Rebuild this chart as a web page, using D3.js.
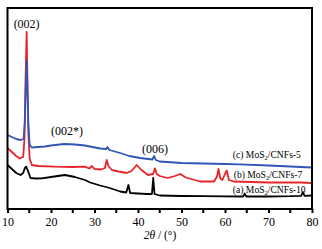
<html>
<head>
<style>
 body{margin:0;background:#fff;}
 text{font-family:"Liberation Serif","Times New Roman",serif;}
</style>
</head>
<body>
<div id="xrd"></div>
<script src="https://d3js.org/d3.v7.min.js"></script>
<script>
// 2theta (deg) , intensity (a.u.)
var seriesA = [[10,44],[11,40],[12,36],[13,34],[13.6,36],[14.0,41],[14.3,42.3],[14.7,38],[15.3,31],[16.5,30.5],[17.9,30.7],[20,32],[23.2,34],[25.5,32],[27.8,29],[29,26.5],[31.3,23.5],[33.5,21],[35.9,17.5],[37.3,16.5],[37.8,24],[38.2,16],[40,15.5],[42,15],[43.2,15],[43.5,31],[43.8,15],[45,13.5],[50,13],[55,12.8],[60,12.6],[64.2,12.5],[64.5,15.5],[64.9,12.5],[70,12.5],[75,12.8],[77.5,13.2],[77.9,17],[78.3,13.2],[80,13.5]];
var seriesB = [[10,61],[11,57],[12,53],[12.8,50.5],[13.6,52],[13.9,70],[14.1,120],[14.4,177],[14.6,125],[14.8,75],[15.1,50],[15.6,44],[17,43],[20.9,42.3],[25,42],[27.8,42.3],[28.8,40.5],[29.4,43],[30,40],[31.5,39.5],[32.4,41],[32.8,49],[33.2,43],[34,39],[35.5,37.5],[37.4,36],[38.5,38],[39.7,44],[40.8,39],[42.3,34],[43.5,35],[43.9,40.7],[44.3,35],[45,33],[46.8,31],[48.5,33],[49.7,35],[51,31.5],[54.3,27.5],[57.5,27.5],[58.2,33],[58.5,40],[58.9,31],[59.4,29],[60,35],[60.4,38.5],[60.9,29],[62,27.5],[66,27],[70,26.5],[74,26.5],[77.5,26.5],[80,26]];
var seriesC = [[10,74],[11,72],[12,70],[13,69],[13.7,70],[14,88],[14.2,120],[14.4,148],[14.6,118],[14.8,85],[15.1,64],[15.6,61.5],[17,62],[18.6,62.5],[20,63.5],[23,65],[25.5,64.5],[27.8,63.5],[29.5,62],[31.3,60.5],[32.7,60],[33,62],[33.4,59],[35.9,56],[38,53],[40.5,51],[43.3,49.5],[43.7,53],[44.1,49],[45,47.5],[50,46],[55,45.5],[60,45],[63.4,44.7],[70,43.5],[75,42.5],[80,41.5]];

var names = ["(a) MoS","(b) MoS","(c) MoS"];
var suffix = ["/CNFs-10","/CNFs-7","/CNFs-5"];
var colors = ["#000000","#e8242a","#2f55b8"];
var legendPos = [[61.8,16.5],[62,31.5],[61.8,51]];   // 2theta, intensity

var peakLabels = ["(002)","(002*)","(006)"];
var peakPos = [[14.4,181],[23.7,74],[43.9,56]];

var xTicks = [10,20,30,40,50,60,70,80];
var xMinor = [15,25,35,45,55,65,75];

var svg = d3.select("#xrd").append("svg")
  .attr("width",322)
  .attr("height",249);

var x = d3.scaleLinear().domain([10,80]).range([7.5,312]);
var y = d3.scaleLinear().domain([0,201]).range([209,8]);

var line = d3.line()
  .x(function(d){return x(d[0]);})
  .y(function(d){return y(d[1]);});

// curves, black first so blue lies on top
[seriesA,seriesB,seriesC].forEach(function(s,i){
  svg.append("path")
    .datum(s)
    .attr("d",line)
    .attr("fill","none")
    .attr("stroke",colors[i])
    .attr("stroke-width",1.8)
    .attr("stroke-linejoin","round");
});

// frame
svg.append("rect")
  .attr("x",x(10)).attr("y",y(201))
  .attr("width",x(80)-x(10))
  .attr("height",y(0)-y(201))
  .attr("fill","none")
  .attr("stroke","#000")
  .attr("stroke-width",2);

var xAxis = svg.append("g")
  .attr("transform","translate(0,"+y(0)+")")
  .call(d3.axisBottom(x).tickValues(xTicks).tickSize(4).tickPadding(4).tickFormat(d3.format("d")));
xAxis.select(".domain").remove();
xAxis.selectAll("line").attr("stroke-width",2);
xAxis.selectAll("text").attr("font-size","12px").attr("fill","#000")
  .style("font-family","'Liberation Serif',serif");

svg.append("g").selectAll("line")
  .data(xMinor).enter().append("line")
  .attr("x1",function(d){return x(d);}).attr("x2",function(d){return x(d);})
  .attr("y1",y(0)).attr("y2",y(0)+4)
  .attr("stroke","#000").attr("stroke-width",2);

// axis title
var t = svg.append("text")
  .attr("x",160).attr("y",239)
  .attr("text-anchor","middle")
  .attr("font-size","11.5px");
t.append("tspan").text("2").attr("font-style","italic");
t.append("tspan").text("\u03b8").attr("font-style","italic");
t.append("tspan").text(" / (\u00b0)");

// peak labels
svg.append("g").selectAll("text")
  .data(peakLabels).enter().append("text")
  .attr("x",function(d,i){return x(peakPos[i][0]);})
  .attr("y",function(d,i){return y(peakPos[i][1]);})
  .attr("text-anchor","middle")
  .attr("font-size","12px")
  .text(function(d){return d;});

// sample labels
names.forEach(function(n,i){
  var lt = svg.append("text")
    .attr("x",x(legendPos[i][0]))
    .attr("y",y(legendPos[i][1]))
    .attr("font-size","9.6px");
  lt.append("tspan").text(n);
  lt.append("tspan").text("2").attr("font-size","6.5px").attr("dy",2);
  lt.append("tspan").text(suffix[i]).attr("dy",-2);
});
</script>
</body>
</html>
